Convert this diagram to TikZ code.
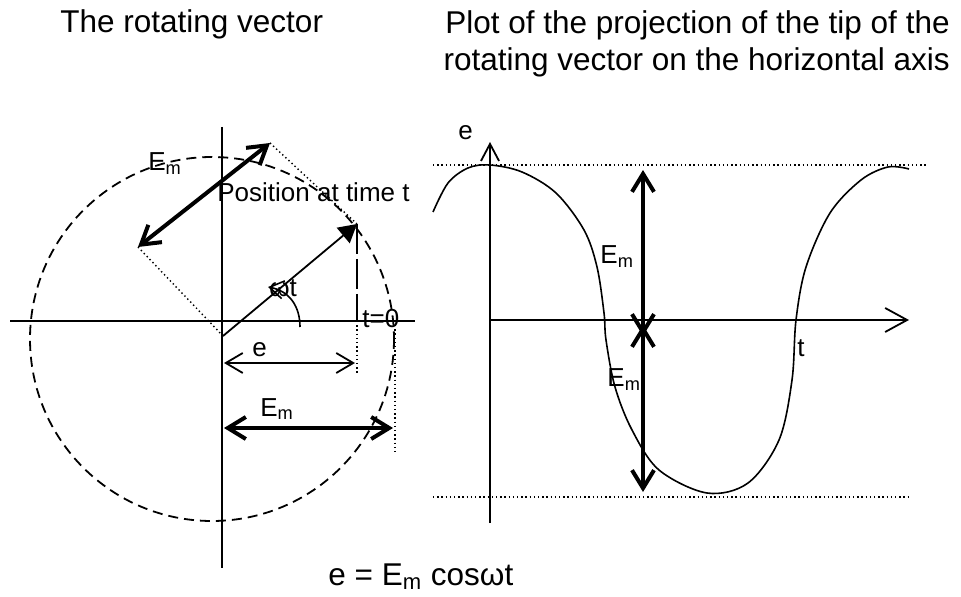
\documentclass[tikz,border=0pt]{standalone}
\usepackage{fontspec}
\setmainfont{Liberation Sans}
\usepackage{tikz}
\usetikzlibrary{arrows.meta}

\tikzset{
  axisline/.style={line width=0.9pt},
  guide/.style={line width=0.7pt, dash pattern=on 0.7pt off 1.4pt},
  heavy/.style={line width=2pt,
    {Straight Barb[length=9pt,width=11pt]}-{Straight Barb[length=9pt,width=11pt]}},
  light/.style={line width=0.9pt,
    {Straight Barb[length=8.5pt,width=10pt]}-{Straight Barb[length=8.5pt,width=10pt]}},
  lbl/.style={font=\fontsize{13}{15}\selectfont, anchor=base west},
  ttl/.style={font=\fontsize{15.75}{18.5}\selectfont}
}

\begin{document}
\begin{tikzpicture}[x=0.5pt, y=-0.5pt, every node/.style={inner sep=0pt}]
  \useasboundingbox (0,0) rectangle (961,597);

  % Titles
  \node[ttl, anchor=base west] (title1) at (60,33) {The rotating vector};
  \node[ttl, anchor=north east, align=right] (title2) at (950,10)
    {Plot of the projection of the tip of the\\rotating vector on the horizontal axis};

  % Rotating vector: axes and circle
  \draw[axisline] (10,321) -- (415,321);
  \draw[axisline] (222,127) -- (222,568);
  \draw[axisline, dash pattern=on 5pt off 3pt] (212,339) circle [radius=182];

  \coordinate (O) at (223,336);
  \coordinate (P) at (357,224);
  \coordinate (A) at (270,143);
  \coordinate (B) at (138,247);

  \draw[axisline, -{Triangle[length=9pt,width=10pt]}] (O) -- (P);
  \draw[guide] (A) -- (P);
  \draw[guide] (B) -- (O);
  \draw[heavy] (B) -- (A);

  % projection of the tip
  \draw[axisline, dash pattern=on 15pt off 2.5pt] (P) -- (357,321);
  \draw[guide] (357,321) -- (357,373);
  \draw[guide] (395,325) -- (395,453);

  % angle
  \draw[line width=0.8pt, -{Straight Barb[length=7pt,width=9pt]}]
    (300,327) .. controls (300,307) and (290,291) .. (268,287);

  \draw[light] (224,363) -- (355,363);
  \draw[heavy] (224,428) -- (393,428);

  \node[lbl] (em1) at (148,171) {E\textsubscript{m}};
  \node[lbl] (pos) at (217,202) {Position at time t};
  \node[lbl] (wt) at (269,297) {ωt};
  \node[lbl] (t0) at (362,328) {t=0};
  \node[lbl] (elbl) at (252,357) {e};
  \node[lbl] (em2) at (260,416) {E\textsubscript{m}};

  % Plot of the projection
  \draw[axisline, -{Straight Barb[length=8.5pt,width=9pt]}] (490,523) -- (490,142);
  \draw[axisline, -{Straight Barb[length=11pt,width=12pt]}] (490,320) -- (909,320);
  \draw[guide] (433,165) -- (927,165);
  \draw[guide] (433,497) -- (909,497);

  \draw[line width=0.8pt] plot[smooth, tension=0.55] coordinates {
    (433,212) (448,183) (468,168) (490,165) (522,172) (556,193) (584,230)
    (597,267) (604,313) (606,340) (615,387) (632,430) (659,470) (707,493)
    (748,483) (779,440) (792,380) (796,320) (806,267) (830,213) (861,180)
    (888,167) (909,169)};

  \draw[heavy] (643,336) -- (643,170);
  \draw[heavy] (643,325) -- (643,492);

  \node[lbl] (eaxis) at (458,140) {e};
  \node[lbl] (em3) at (600,264) {E\textsubscript{m}};
  \node[lbl] (em4) at (607,387) {E\textsubscript{m}};
  \node[lbl] (tlbl) at (797,357) {t};

  % formula
  \node[ttl, anchor=base west] (formula) at (328,585) {e = E\textsubscript{m} cosωt};
\end{tikzpicture}
\end{document}
